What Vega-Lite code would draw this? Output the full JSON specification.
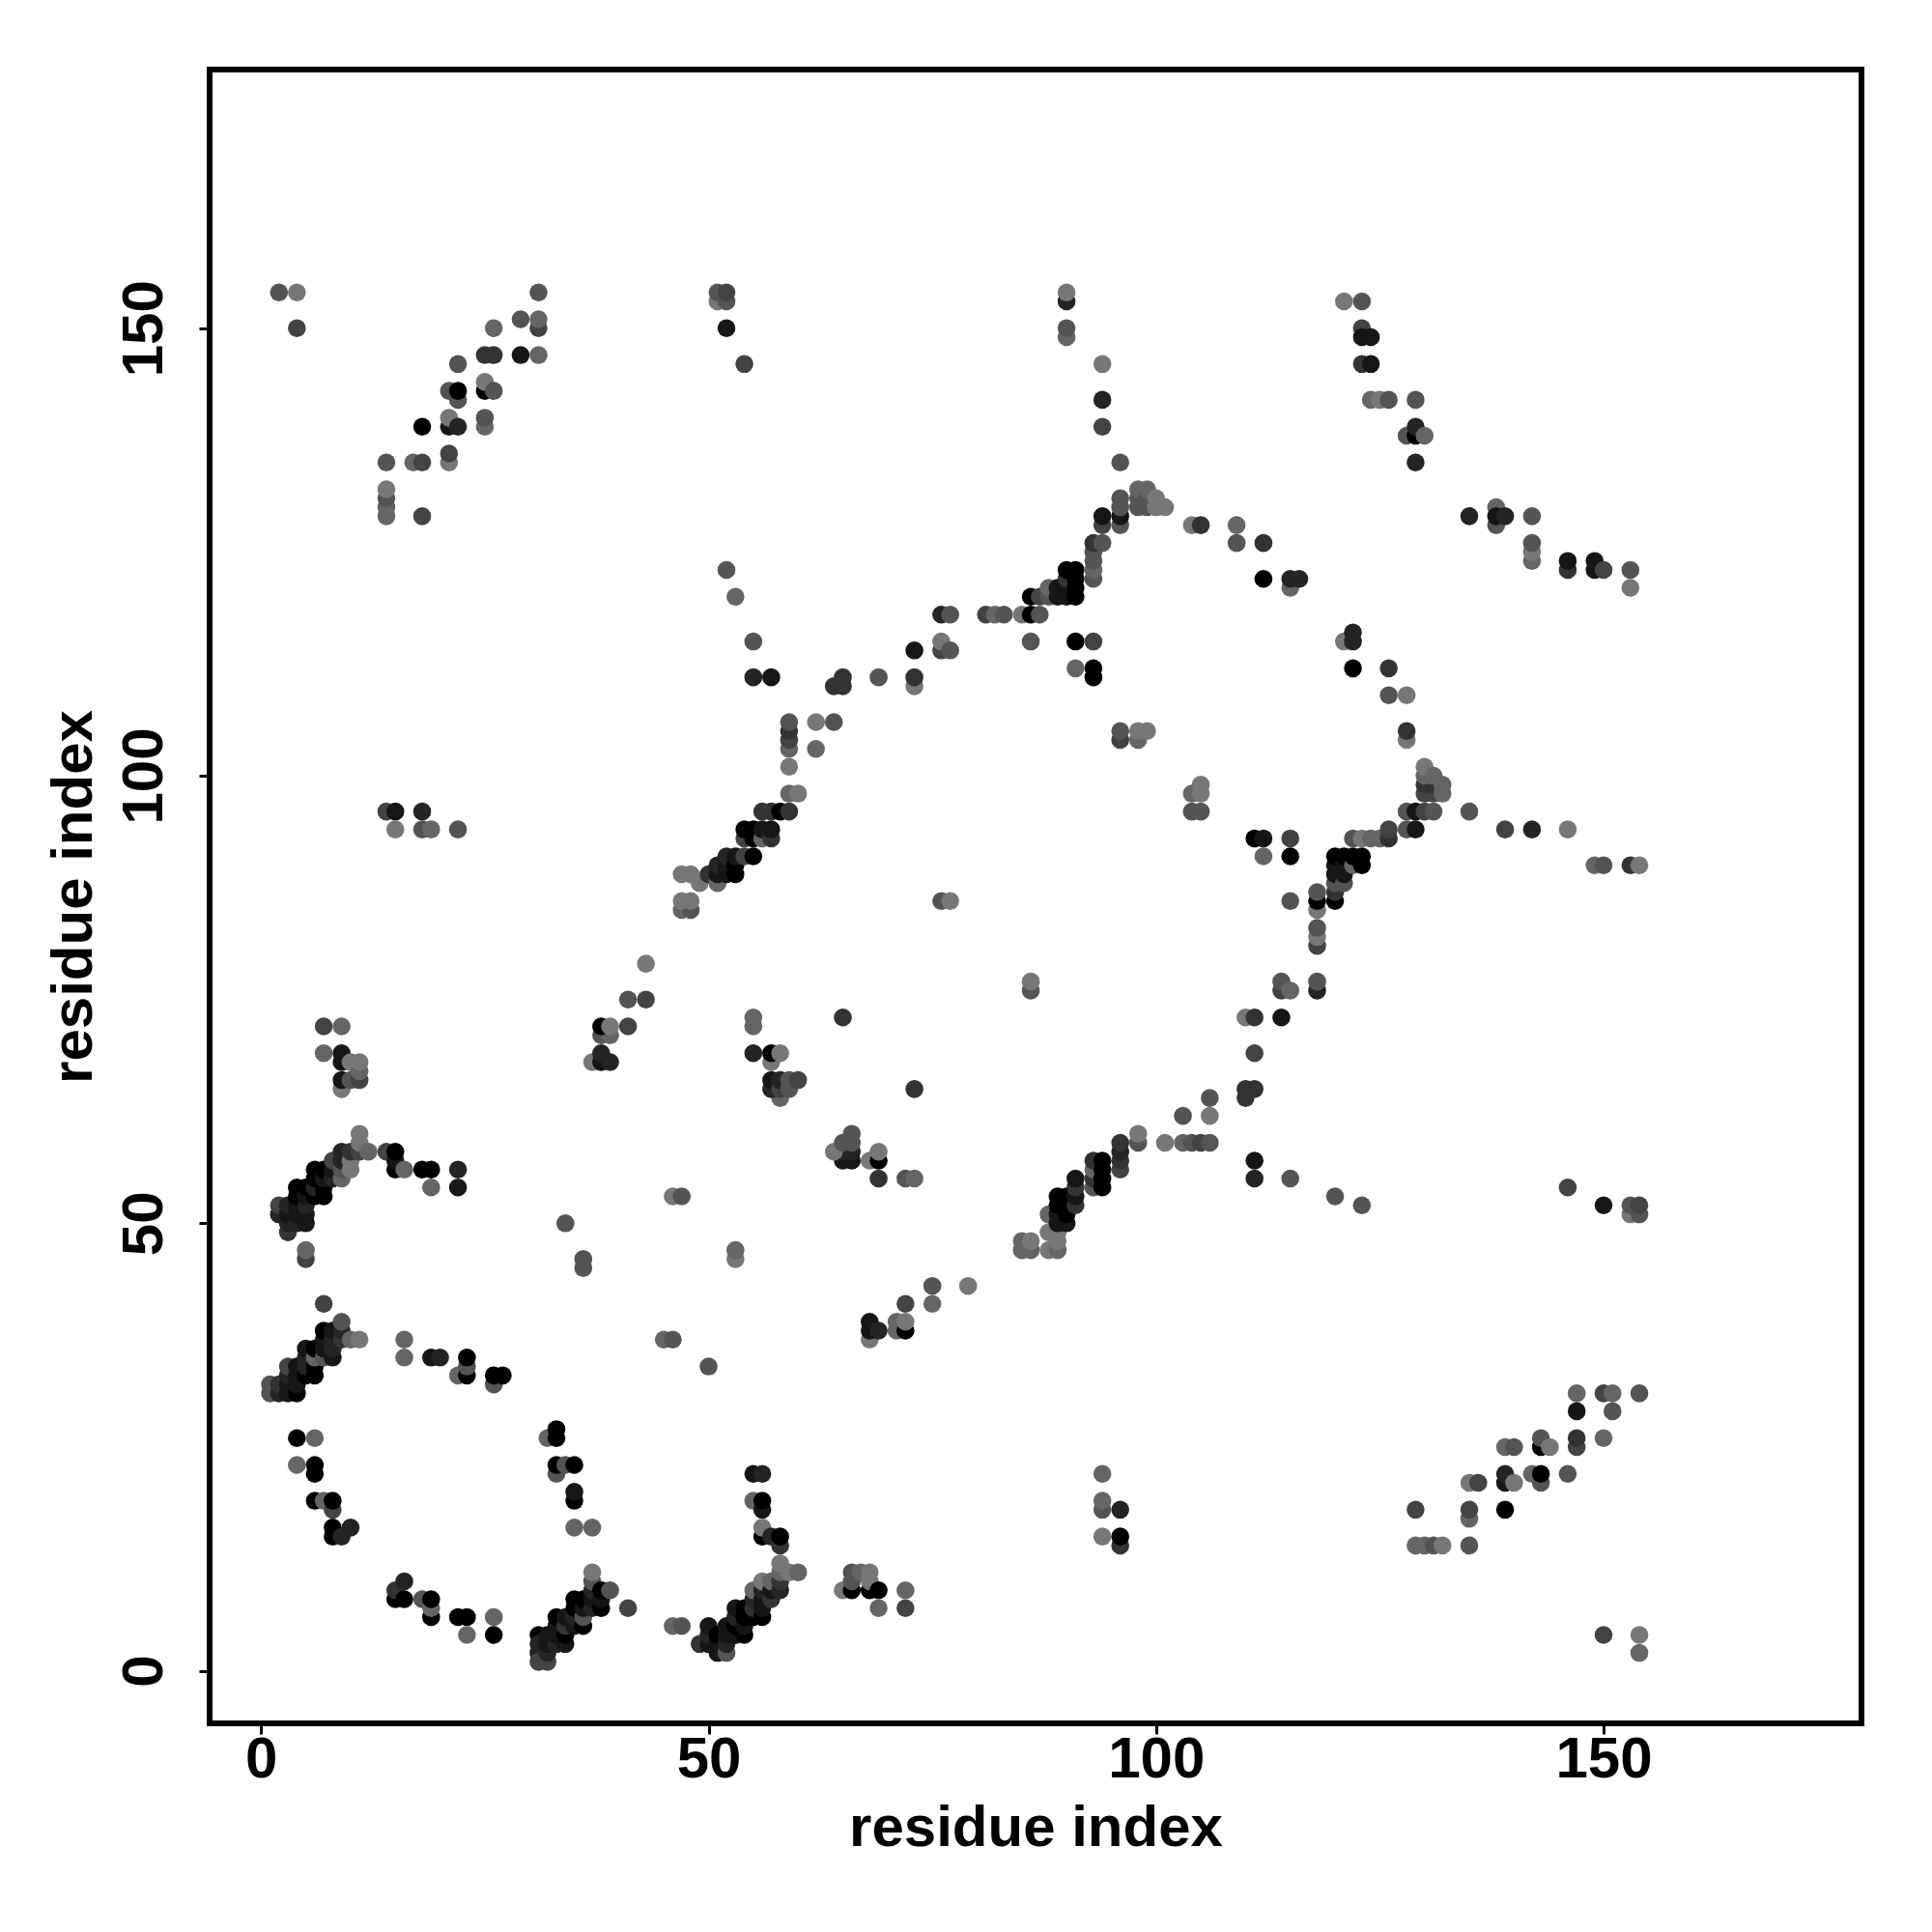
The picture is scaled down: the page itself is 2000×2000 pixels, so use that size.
{"$schema":"https://vega.github.io/schema/vega-lite/v6.json","autosize":{"type":"none"},"padding":{"left":217,"top":72,"right":70,"bottom":216},"width":1710,"height":1712,"background":"white","config":{"view":{"stroke":"black","strokeWidth":6,"fill":"white"}},"data":{"values":[
{"x":31,"y":4,"g":0},{"x":31,"y":3,"g":2},{"x":31,"y":2,"g":2},{"x":31,"y":1,"g":4},{"x":32,"y":1,"g":4},{"x":32,"y":2,"g":2},{"x":32,"y":3,"g":1},{"x":32,"y":4,"g":1},{"x":33,"y":3,"g":2},{"x":33,"y":4,"g":1},{"x":33,"y":5,"g":1},{"x":33,"y":6,"g":0},{"x":34,"y":3,"g":1},{"x":34,"y":4,"g":0},{"x":34,"y":5,"g":3},{"x":34,"y":6,"g":1},{"x":35,"y":5,"g":1},{"x":35,"y":6,"g":2},{"x":35,"y":7,"g":0},{"x":35,"y":8,"g":0},{"x":36,"y":5,"g":0},{"x":36,"y":6,"g":5},{"x":36,"y":7,"g":1},{"x":36,"y":8,"g":0},{"x":37,"y":7,"g":2},{"x":37,"y":8,"g":1},{"x":37,"y":9,"g":2},{"x":37,"y":10,"g":5},{"x":37,"y":11,"g":7},{"x":38,"y":7,"g":0},{"x":38,"y":8,"g":1},{"x":38,"y":9,"g":0},{"x":39,"y":9,"g":5},{"x":41,"y":7,"g":4},{"x":46,"y":5,"g":6},{"x":47,"y":5,"g":5},{"x":49,"y":3,"g":3},{"x":50,"y":3,"g":1},{"x":50,"y":4,"g":2},{"x":50,"y":5,"g":1},{"x":51,"y":2,"g":1},{"x":51,"y":3,"g":1},{"x":51,"y":4,"g":0},{"x":52,"y":2,"g":5},{"x":52,"y":3,"g":2},{"x":52,"y":4,"g":1},{"x":52,"y":5,"g":1},{"x":53,"y":4,"g":1},{"x":53,"y":5,"g":0},{"x":53,"y":6,"g":2},{"x":53,"y":7,"g":1},{"x":54,"y":4,"g":0},{"x":54,"y":5,"g":1},{"x":54,"y":6,"g":0},{"x":54,"y":7,"g":0},{"x":55,"y":6,"g":0},{"x":55,"y":7,"g":3},{"x":55,"y":8,"g":2},{"x":55,"y":9,"g":6},{"x":56,"y":6,"g":0},{"x":56,"y":7,"g":1},{"x":56,"y":8,"g":1},{"x":56,"y":9,"g":2},{"x":56,"y":10,"g":7},{"x":57,"y":8,"g":3},{"x":57,"y":9,"g":1},{"x":57,"y":10,"g":6},{"x":58,"y":9,"g":2},{"x":58,"y":10,"g":3},{"x":58,"y":11,"g":6},{"x":58,"y":12,"g":7},{"x":59,"y":11,"g":7},{"x":60,"y":11,"g":6},
{"x":56,"y":15,"g":0},{"x":56,"y":16,"g":7},{"x":57,"y":15,"g":2},{"x":58,"y":14,"g":3},{"x":58,"y":15,"g":0},{"x":55,"y":19,"g":6},{"x":56,"y":18,"g":1},{"x":56,"y":19,"g":0},{"x":55,"y":22,"g":1},{"x":56,"y":22,"g":2},
{"x":15,"y":8,"g":0},{"x":15,"y":9,"g":3},{"x":16,"y":8,"g":0},{"x":16,"y":10,"g":2},{"x":18,"y":8,"g":5},{"x":19,"y":6,"g":0},{"x":19,"y":7,"g":6},{"x":19,"y":8,"g":0},{"x":22,"y":6,"g":0},{"x":23,"y":6,"g":0},{"x":23,"y":4,"g":6},{"x":26,"y":6,"g":6},{"x":26,"y":4,"g":0},
{"x":4,"y":26,"g":0},{"x":6,"y":26,"g":6},{"x":4,"y":23,"g":6},{"x":6,"y":22,"g":0},{"x":6,"y":23,"g":0},{"x":6,"y":19,"g":0},{"x":7,"y":19,"g":6},{"x":8,"y":18,"g":4},{"x":8,"y":19,"g":0},{"x":8,"y":15,"g":0},{"x":8,"y":16,"g":0},{"x":9,"y":15,"g":2},{"x":10,"y":16,"g":2},
{"x":32,"y":26,"g":6},{"x":33,"y":26,"g":0},{"x":33,"y":27,"g":0},{"x":33,"y":22,"g":5},{"x":33,"y":23,"g":0},{"x":34,"y":23,"g":5},{"x":35,"y":23,"g":0},{"x":35,"y":19,"g":0},{"x":35,"y":20,"g":1},{"x":35,"y":16,"g":6},{"x":37,"y":16,"g":6},
{"x":1,"y":31,"g":5},{"x":1,"y":32,"g":5},{"x":2,"y":31,"g":2},{"x":2,"y":32,"g":3},{"x":3,"y":31,"g":1},{"x":3,"y":32,"g":1},{"x":3,"y":33,"g":2},{"x":3,"y":34,"g":4},{"x":4,"y":31,"g":0},{"x":4,"y":32,"g":1},{"x":4,"y":33,"g":1},{"x":4,"y":34,"g":1},{"x":5,"y":33,"g":0},{"x":5,"y":34,"g":2},{"x":5,"y":35,"g":2},{"x":5,"y":36,"g":1},{"x":6,"y":33,"g":0},{"x":6,"y":34,"g":0},{"x":6,"y":35,"g":6},{"x":6,"y":36,"g":0},{"x":7,"y":35,"g":5},{"x":7,"y":36,"g":1},{"x":7,"y":37,"g":1},{"x":7,"y":38,"g":0},{"x":8,"y":35,"g":1},{"x":8,"y":36,"g":2},{"x":8,"y":37,"g":2},{"x":8,"y":38,"g":1},{"x":9,"y":37,"g":3},{"x":9,"y":38,"g":2},{"x":9,"y":39,"g":5},{"x":7,"y":41,"g":4},{"x":10,"y":37,"g":6},{"x":11,"y":37,"g":7},
{"x":16,"y":37,"g":6},{"x":16,"y":35,"g":6},{"x":19,"y":35,"g":1},{"x":20,"y":35,"g":2},{"x":22,"y":33,"g":6},{"x":23,"y":33,"g":0},{"x":23,"y":34,"g":5},{"x":23,"y":35,"g":0},{"x":26,"y":32,"g":5},{"x":26,"y":33,"g":0},{"x":27,"y":33,"g":0},{"x":45,"y":37,"g":6},{"x":46,"y":37,"g":5},{"x":50,"y":34,"g":5},
{"x":2,"y":51,"g":2},{"x":2,"y":52,"g":4},{"x":3,"y":49,"g":3},{"x":3,"y":50,"g":2},{"x":3,"y":51,"g":1},{"x":3,"y":52,"g":2},{"x":4,"y":50,"g":2},{"x":4,"y":51,"g":1},{"x":4,"y":52,"g":1},{"x":4,"y":53,"g":0},{"x":4,"y":54,"g":0},{"x":5,"y":50,"g":1},{"x":5,"y":51,"g":1},{"x":5,"y":52,"g":2},{"x":5,"y":53,"g":1},{"x":5,"y":54,"g":0},{"x":5,"y":46,"g":4},{"x":5,"y":47,"g":6},{"x":6,"y":53,"g":0},{"x":6,"y":54,"g":2},{"x":6,"y":55,"g":0},{"x":6,"y":56,"g":0},{"x":7,"y":53,"g":0},{"x":7,"y":54,"g":0},{"x":7,"y":55,"g":1},{"x":7,"y":56,"g":0},{"x":8,"y":55,"g":2},{"x":8,"y":56,"g":1},{"x":8,"y":57,"g":4},{"x":9,"y":55,"g":6},{"x":9,"y":56,"g":5},{"x":9,"y":57,"g":2},{"x":9,"y":58,"g":2},{"x":10,"y":56,"g":7},{"x":10,"y":57,"g":7},{"x":10,"y":58,"g":3},{"x":11,"y":58,"g":4},{"x":11,"y":59,"g":7},{"x":11,"y":60,"g":7},{"x":12,"y":58,"g":6},{"x":14,"y":58,"g":4},{"x":15,"y":56,"g":0},{"x":15,"y":57,"g":1},{"x":15,"y":58,"g":0},{"x":16,"y":56,"g":6},{"x":18,"y":56,"g":0},{"x":19,"y":56,"g":0},{"x":19,"y":54,"g":6},{"x":22,"y":56,"g":2},{"x":22,"y":54,"g":1},{"x":34,"y":50,"g":5},{"x":36,"y":46,"g":5},{"x":36,"y":45,"g":5},{"x":46,"y":53,"g":7},{"x":47,"y":53,"g":5},{"x":53,"y":46,"g":7},{"x":53,"y":47,"g":6},
{"x":7,"y":72,"g":4},{"x":9,"y":72,"g":6},{"x":7,"y":69,"g":6},{"x":9,"y":65,"g":7},{"x":9,"y":66,"g":1},{"x":9,"y":68,"g":1},{"x":9,"y":69,"g":1},{"x":10,"y":66,"g":5},{"x":10,"y":68,"g":7},{"x":11,"y":66,"g":4},{"x":11,"y":67,"g":6},{"x":11,"y":68,"g":7},
{"x":37,"y":68,"g":7},{"x":38,"y":68,"g":1},{"x":38,"y":69,"g":2},{"x":39,"y":68,"g":2},{"x":38,"y":71,"g":5},{"x":39,"y":71,"g":6},{"x":38,"y":72,"g":0},{"x":39,"y":72,"g":7},{"x":41,"y":72,"g":4},{"x":41,"y":75,"g":5},{"x":43,"y":75,"g":4},{"x":43,"y":79,"g":7},
{"x":55,"y":72,"g":6},{"x":55,"y":73,"g":6},{"x":55,"y":69,"g":2},{"x":57,"y":68,"g":7},{"x":57,"y":69,"g":0},{"x":58,"y":69,"g":7},{"x":58,"y":64,"g":6},{"x":57,"y":65,"g":2},{"x":57,"y":66,"g":1},{"x":58,"y":65,"g":4},{"x":58,"y":66,"g":2},{"x":59,"y":65,"g":5},{"x":59,"y":66,"g":5},{"x":60,"y":66,"g":4},
{"x":14,"y":96,"g":4},{"x":15,"y":96,"g":1},{"x":18,"y":96,"g":2},{"x":15,"y":94,"g":7},{"x":18,"y":94,"g":5},{"x":19,"y":94,"g":6},{"x":22,"y":94,"g":5},
{"x":47,"y":85,"g":6},{"x":48,"y":85,"g":5},{"x":47,"y":86,"g":7},{"x":48,"y":86,"g":7},{"x":47,"y":89,"g":7},{"x":48,"y":89,"g":7},{"x":49,"y":88,"g":7},{"x":50,"y":89,"g":3},{"x":51,"y":88,"g":6},{"x":51,"y":89,"g":1},{"x":51,"y":90,"g":2},{"x":52,"y":89,"g":1},{"x":52,"y":90,"g":1},{"x":52,"y":91,"g":2},{"x":53,"y":89,"g":0},{"x":53,"y":90,"g":0},{"x":53,"y":91,"g":1},{"x":54,"y":91,"g":4},{"x":55,"y":91,"g":0},{"x":54,"y":93,"g":4},{"x":54,"y":94,"g":0},{"x":55,"y":93,"g":0},{"x":55,"y":94,"g":0},{"x":56,"y":93,"g":6},{"x":56,"y":94,"g":1},{"x":57,"y":93,"g":3},{"x":57,"y":94,"g":1},{"x":56,"y":96,"g":3},{"x":57,"y":96,"g":3},{"x":58,"y":96,"g":0},{"x":59,"y":96,"g":3},{"x":59,"y":98,"g":6},{"x":60,"y":98,"g":7},{"x":59,"y":101,"g":7},{"x":59,"y":103,"g":6},{"x":59,"y":104,"g":4},{"x":59,"y":105,"g":3},{"x":59,"y":106,"g":5},{"x":62,"y":106,"g":7},{"x":62,"y":103,"g":6},{"x":64,"y":106,"g":5},
{"x":2,"y":154,"g":5},{"x":4,"y":154,"g":7},{"x":4,"y":150,"g":4},{"x":31,"y":154,"g":5},{"x":29,"y":151,"g":5},{"x":31,"y":150,"g":4},{"x":31,"y":151,"g":6},{"x":26,"y":150,"g":6},{"x":25,"y":147,"g":3},{"x":26,"y":147,"g":3},{"x":29,"y":147,"g":1},{"x":31,"y":147,"g":6},{"x":22,"y":146,"g":5},{"x":25,"y":143,"g":0},{"x":25,"y":144,"g":7},{"x":26,"y":143,"g":5},{"x":21,"y":143,"g":5},{"x":22,"y":142,"g":5},{"x":22,"y":143,"g":0},{"x":21,"y":139,"g":1},{"x":21,"y":140,"g":7},{"x":22,"y":139,"g":2},{"x":18,"y":139,"g":0},{"x":25,"y":139,"g":6},{"x":25,"y":140,"g":5},{"x":14,"y":135,"g":5},{"x":17,"y":135,"g":6},{"x":18,"y":135,"g":4},{"x":21,"y":135,"g":7},{"x":21,"y":136,"g":4},{"x":14,"y":129,"g":6},{"x":14,"y":130,"g":6},{"x":14,"y":131,"g":5},{"x":14,"y":132,"g":7},{"x":18,"y":129,"g":4},
{"x":51,"y":153,"g":7},{"x":52,"y":153,"g":5},{"x":51,"y":154,"g":5},{"x":52,"y":154,"g":4},{"x":52,"y":150,"g":1},{"x":54,"y":146,"g":4},{"x":52,"y":123,"g":5},{"x":53,"y":120,"g":6},{"x":55,"y":115,"g":5},{"x":55,"y":111,"g":2},{"x":57,"y":111,"g":1},
{"x":64,"y":110,"g":3},{"x":65,"y":110,"g":3},{"x":65,"y":111,"g":3},{"x":69,"y":111,"g":5},{"x":73,"y":110,"g":7},{"x":73,"y":111,"g":3},{"x":73,"y":114,"g":1},{"x":76,"y":114,"g":4},{"x":76,"y":115,"g":7},{"x":77,"y":114,"g":5},{"x":76,"y":118,"g":2},{"x":77,"y":118,"g":5},{"x":81,"y":118,"g":4},{"x":82,"y":118,"g":6},{"x":83,"y":118,"g":5},{"x":85,"y":118,"g":7},{"x":86,"y":118,"g":0},{"x":87,"y":118,"g":5},{"x":86,"y":115,"g":5},{"x":91,"y":115,"g":0},{"x":93,"y":115,"g":4},{"x":91,"y":112,"g":6},{"x":93,"y":111,"g":0},{"x":93,"y":112,"g":0},
{"x":86,"y":120,"g":0},{"x":87,"y":120,"g":4},{"x":88,"y":120,"g":5},{"x":88,"y":121,"g":6},{"x":89,"y":120,"g":1},{"x":89,"y":121,"g":1},{"x":90,"y":120,"g":1},{"x":90,"y":121,"g":1},{"x":90,"y":122,"g":3},{"x":90,"y":123,"g":0},{"x":91,"y":120,"g":0},{"x":91,"y":121,"g":0},{"x":91,"y":122,"g":0},{"x":91,"y":123,"g":0},{"x":93,"y":122,"g":5},{"x":93,"y":123,"g":6},{"x":93,"y":124,"g":5},{"x":93,"y":125,"g":5},{"x":93,"y":126,"g":3},{"x":94,"y":126,"g":5},{"x":94,"y":128,"g":4},{"x":94,"y":129,"g":1},{"x":96,"y":128,"g":5},{"x":96,"y":129,"g":1},{"x":96,"y":130,"g":5},{"x":96,"y":131,"g":5},{"x":96,"y":135,"g":5},{"x":98,"y":130,"g":5},{"x":98,"y":131,"g":5},{"x":98,"y":132,"g":6},{"x":99,"y":130,"g":5},{"x":99,"y":131,"g":5},{"x":99,"y":132,"g":6},{"x":100,"y":130,"g":7},{"x":100,"y":131,"g":7},{"x":101,"y":130,"g":7},
{"x":94,"y":142,"g":2},{"x":94,"y":139,"g":4},{"x":94,"y":146,"g":7},{"x":90,"y":153,"g":2},{"x":90,"y":154,"g":7},{"x":90,"y":149,"g":6},{"x":90,"y":150,"g":5},{"x":104,"y":128,"g":7},{"x":105,"y":128,"g":3},{"x":109,"y":128,"g":6},{"x":109,"y":126,"g":5},{"x":112,"y":126,"g":3},{"x":112,"y":122,"g":0},{"x":115,"y":121,"g":6},{"x":115,"y":122,"g":2},{"x":116,"y":122,"g":2},
{"x":121,"y":153,"g":7},{"x":123,"y":153,"g":5},{"x":123,"y":150,"g":4},{"x":123,"y":149,"g":1},{"x":124,"y":149,"g":1},{"x":123,"y":146,"g":3},{"x":124,"y":146,"g":1},{"x":124,"y":142,"g":6},{"x":125,"y":142,"g":7},{"x":126,"y":142,"g":5},{"x":129,"y":142,"g":5},{"x":128,"y":138,"g":5},{"x":129,"y":138,"g":0},{"x":129,"y":139,"g":2},{"x":130,"y":138,"g":6},{"x":129,"y":135,"g":2},
{"x":121,"y":115,"g":7},{"x":122,"y":116,"g":2},{"x":122,"y":115,"g":2},{"x":122,"y":112,"g":0},{"x":126,"y":112,"g":3},{"x":126,"y":109,"g":5},{"x":128,"y":109,"g":7},{"x":128,"y":104,"g":7},{"x":128,"y":105,"g":3},{"x":96,"y":104,"g":4},{"x":96,"y":105,"g":5},{"x":98,"y":104,"g":6},{"x":98,"y":105,"g":7},{"x":99,"y":105,"g":7},{"x":104,"y":96,"g":5},{"x":105,"y":96,"g":5},{"x":104,"y":98,"g":6},{"x":105,"y":98,"g":7},{"x":105,"y":99,"g":7},
{"x":130,"y":98,"g":4},{"x":131,"y":98,"g":4},{"x":130,"y":99,"g":3},{"x":131,"y":99,"g":3},{"x":130,"y":100,"g":6},{"x":130,"y":101,"g":7},{"x":131,"y":100,"g":6},{"x":132,"y":98,"g":6},{"x":132,"y":99,"g":6},{"x":128,"y":96,"g":5},{"x":129,"y":96,"g":1},{"x":130,"y":96,"g":4},{"x":131,"y":96,"g":5},{"x":135,"y":96,"g":5},{"x":128,"y":94,"g":5},{"x":129,"y":94,"g":1},{"x":139,"y":94,"g":4},{"x":142,"y":94,"g":2},{"x":146,"y":94,"g":7},{"x":149,"y":90,"g":6},{"x":150,"y":90,"g":5},{"x":153,"y":90,"g":3},{"x":154,"y":90,"g":7},
{"x":135,"y":129,"g":2},{"x":138,"y":128,"g":5},{"x":138,"y":130,"g":6},{"x":138,"y":129,"g":1},{"x":139,"y":129,"g":2},{"x":142,"y":129,"g":5},{"x":142,"y":124,"g":6},{"x":142,"y":125,"g":7},{"x":142,"y":126,"g":5},{"x":146,"y":123,"g":3},{"x":146,"y":124,"g":1},{"x":149,"y":124,"g":1},{"x":149,"y":123,"g":1},{"x":150,"y":123,"g":4},{"x":153,"y":123,"g":5},{"x":153,"y":121,"g":7},
{"x":111,"y":93,"g":0},{"x":112,"y":93,"g":1},{"x":115,"y":93,"g":4},{"x":112,"y":91,"g":6},{"x":115,"y":91,"g":0},{"x":120,"y":86,"g":0},{"x":120,"y":87,"g":3},{"x":120,"y":88,"g":5},{"x":120,"y":89,"g":1},{"x":120,"y":90,"g":1},{"x":120,"y":91,"g":0},{"x":121,"y":88,"g":5},{"x":121,"y":89,"g":1},{"x":121,"y":90,"g":1},{"x":121,"y":91,"g":0},{"x":122,"y":90,"g":6},{"x":122,"y":91,"g":0},{"x":123,"y":90,"g":0},{"x":123,"y":91,"g":0},{"x":118,"y":85,"g":7},{"x":118,"y":86,"g":0},{"x":118,"y":87,"g":5},{"x":118,"y":81,"g":4},{"x":118,"y":82,"g":7},{"x":118,"y":83,"g":5},{"x":115,"y":86,"g":5},{"x":122,"y":93,"g":5},{"x":123,"y":93,"g":7},{"x":124,"y":93,"g":6},{"x":125,"y":93,"g":6},{"x":126,"y":93,"g":3},{"x":126,"y":94,"g":4},
{"x":118,"y":76,"g":2},{"x":118,"y":77,"g":5},{"x":114,"y":76,"g":4},{"x":114,"y":77,"g":5},{"x":115,"y":76,"g":6},{"x":110,"y":73,"g":7},{"x":111,"y":73,"g":3},{"x":114,"y":73,"g":1},{"x":111,"y":69,"g":4},{"x":110,"y":64,"g":3},{"x":110,"y":65,"g":3},{"x":111,"y":65,"g":3},{"x":106,"y":64,"g":5},{"x":103,"y":62,"g":5},{"x":106,"y":62,"g":7},{"x":98,"y":59,"g":5},{"x":98,"y":60,"g":7},{"x":101,"y":59,"g":7},{"x":103,"y":59,"g":6},{"x":104,"y":59,"g":5},{"x":105,"y":59,"g":4},{"x":106,"y":59,"g":5},
{"x":96,"y":56,"g":4},{"x":96,"y":57,"g":3},{"x":96,"y":58,"g":2},{"x":96,"y":59,"g":3},{"x":93,"y":54,"g":5},{"x":93,"y":55,"g":3},{"x":93,"y":56,"g":6},{"x":93,"y":57,"g":3},{"x":94,"y":54,"g":0},{"x":94,"y":55,"g":0},{"x":94,"y":56,"g":0},{"x":94,"y":57,"g":0},{"x":88,"y":47,"g":7},{"x":89,"y":47,"g":6},{"x":89,"y":48,"g":7},{"x":88,"y":49,"g":7},{"x":89,"y":49,"g":7},{"x":88,"y":51,"g":6},{"x":89,"y":50,"g":1},{"x":89,"y":51,"g":1},{"x":89,"y":52,"g":0},{"x":89,"y":53,"g":0},{"x":90,"y":50,"g":1},{"x":90,"y":51,"g":0},{"x":90,"y":52,"g":0},{"x":90,"y":53,"g":0},{"x":91,"y":52,"g":3},{"x":91,"y":53,"g":1},{"x":91,"y":54,"g":3},{"x":91,"y":55,"g":1},{"x":85,"y":47,"g":6},{"x":86,"y":47,"g":6},{"x":85,"y":48,"g":6},{"x":86,"y":48,"g":7},
{"x":65,"y":57,"g":1},{"x":66,"y":57,"g":1},{"x":65,"y":58,"g":2},{"x":66,"y":58,"g":2},{"x":64,"y":58,"g":7},{"x":65,"y":59,"g":5},{"x":66,"y":59,"g":5},{"x":66,"y":60,"g":5},{"x":68,"y":57,"g":7},{"x":69,"y":57,"g":0},{"x":69,"y":58,"g":7},{"x":69,"y":55,"g":3},{"x":72,"y":55,"g":5},{"x":73,"y":55,"g":6},{"x":65,"y":73,"g":3},{"x":73,"y":65,"g":3},{"x":86,"y":76,"g":5},{"x":86,"y":77,"g":7},{"x":76,"y":86,"g":5},{"x":77,"y":86,"g":7},{"x":111,"y":57,"g":1},{"x":111,"y":55,"g":2},{"x":115,"y":55,"g":5},{"x":120,"y":53,"g":5},{"x":123,"y":52,"g":5},
{"x":75,"y":43,"g":5},{"x":79,"y":43,"g":7},{"x":72,"y":41,"g":4},{"x":75,"y":41,"g":6},{"x":68,"y":37,"g":7},{"x":68,"y":38,"g":1},{"x":68,"y":39,"g":1},{"x":69,"y":38,"g":2},{"x":71,"y":38,"g":6},{"x":71,"y":39,"g":6},{"x":72,"y":38,"g":0},{"x":72,"y":39,"g":7},{"x":94,"y":22,"g":6},{"x":94,"y":18,"g":5},{"x":94,"y":19,"g":6},{"x":96,"y":18,"g":2},{"x":94,"y":15,"g":7},{"x":96,"y":14,"g":3},{"x":96,"y":15,"g":0},{"x":129,"y":18,"g":4},{"x":129,"y":14,"g":6},{"x":130,"y":14,"g":6},{"x":131,"y":14,"g":5},{"x":132,"y":14,"g":7},
{"x":65,"y":9,"g":7},{"x":66,"y":9,"g":0},{"x":66,"y":10,"g":5},{"x":66,"y":11,"g":5},{"x":67,"y":11,"g":6},{"x":68,"y":9,"g":0},{"x":68,"y":10,"g":7},{"x":68,"y":11,"g":7},{"x":69,"y":9,"g":0},{"x":72,"y":9,"g":6},{"x":69,"y":7,"g":6},{"x":72,"y":7,"g":4},
{"x":146,"y":54,"g":4},{"x":150,"y":52,"g":1},{"x":153,"y":51,"g":7},{"x":154,"y":51,"g":5},{"x":153,"y":52,"g":5},{"x":154,"y":52,"g":4},
{"x":147,"y":31,"g":6},{"x":150,"y":31,"g":4},{"x":151,"y":31,"g":6},{"x":154,"y":31,"g":5},{"x":147,"y":29,"g":1},{"x":151,"y":29,"g":5},{"x":143,"y":25,"g":0},{"x":143,"y":26,"g":5},{"x":144,"y":25,"g":7},{"x":147,"y":25,"g":4},{"x":147,"y":26,"g":3},{"x":150,"y":26,"g":6},{"x":139,"y":25,"g":6},{"x":140,"y":25,"g":5},{"x":139,"y":21,"g":1},{"x":139,"y":22,"g":2},{"x":140,"y":21,"g":7},{"x":142,"y":22,"g":6},{"x":143,"y":21,"g":5},{"x":143,"y":22,"g":0},{"x":146,"y":22,"g":5},{"x":135,"y":21,"g":7},{"x":136,"y":21,"g":4},{"x":135,"y":17,"g":6},{"x":135,"y":18,"g":4},{"x":139,"y":18,"g":0},{"x":135,"y":14,"g":5},{"x":150,"y":4,"g":4},{"x":154,"y":2,"g":6},{"x":154,"y":4,"g":7}
]},"mark":{"type":"circle","size":345,"opacity":1},"encoding":{"x":{"field":"x","type":"quantitative","scale":{"domain":[-5.75,178.82],"nice":false,"zero":false},"axis":{"values":[0,50,100,150],"title":"residue index","grid":false,"domain":false,"tickColor":"black","tickWidth":3,"tickSize":11,"labelFont":"Liberation Sans","labelFontWeight":"bold","labelFontSize":60,"labelColor":"black","labelPadding":-3,"titleFont":"Liberation Sans","titleFontWeight":"bold","titleFontSize":60,"titleColor":"black","titlePadding":12}},"y":{"field":"y","type":"quantitative","scale":{"domain":[-5.87,178.9],"nice":false,"zero":false},"axis":{"values":[0,50,100,150],"title":"residue index","grid":false,"domain":false,"tickColor":"black","tickWidth":3,"tickSize":11,"labelFont":"Liberation Sans","labelFontWeight":"bold","labelFontSize":60,"labelColor":"black","labelAngle":-90,"labelAlign":"center","labelBaseline":"bottom","labelPadding":26,"titleFont":"Liberation Sans","titleFontWeight":"bold","titleFontSize":60,"titleColor":"black","titlePadding":12}},"color":{"field":"g","type":"quantitative","scale":{"domain":[0,7],"range":["#000000","#777777"]},"legend":null}}}
